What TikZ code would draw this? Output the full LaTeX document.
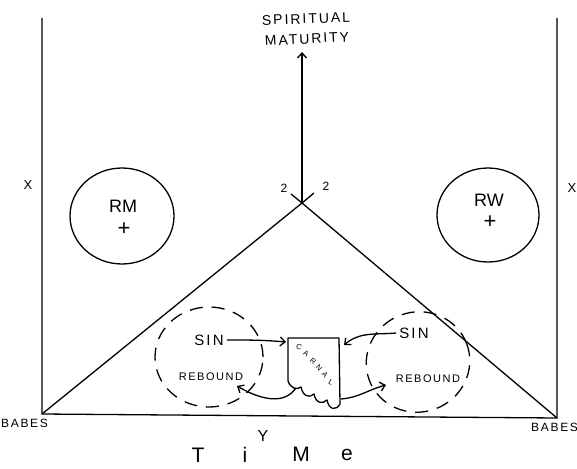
\documentclass[tikz,border=0pt]{standalone}
\usepackage{fontspec}
\setmainfont{Liberation Sans}
\newfontfamily\hand[LetterSpace=14]{Liberation Sans}
\usetikzlibrary{arrows.meta,shapes.geometric}
\begin{document}
\begin{tikzpicture}[x=1pt,y=-1pt,
  ink/.style={line width=1.3pt,black},
  ring/.style={ink,draw,ellipse,inner sep=0pt},
  cloud/.style={ink,draw,ellipse,inner sep=0pt,dash pattern=on 13pt off 9pt},
  lbl/.style={inner sep=0pt,font=\hand},
  cletter/.style={inner sep=0pt,font=\fontsize{7.5}{8}\selectfont},
  arr/.style={ink,-{Straight Barb[length=5pt,width=9pt]}}]
\useasboundingbox (0,0) rectangle (577,468);
% frame corners
\coordinate (TL) at (42,18);
\coordinate (BL) at (42,414);
\coordinate (TR) at (557,18);
\coordinate (BR) at (557,418);
\coordinate (apex) at (302,203);
\coordinate (apexL) at (291,194);
\coordinate (apexR) at (314,193);
\coordinate (top) at (302,52);
\draw[ink] (TL) -- (BL) -- (BR) -- (TR);
\draw[ink] (BL) -- (apex) -- (apexR);
\draw[ink] (BR) -- (apex) -- (apexL);
\draw[arr] (apex) -- (top);
% labels top
\node[lbl,font=\hand\fontsize{14}{15}\selectfont,rotate=2] (sp) at (306,19) {SPIRITUAL};
\node[lbl,font=\hand\fontsize{14}{15}\selectfont,rotate=3] (ma) at (307,39) {MATURITY};
\node[lbl,font=\fontsize{12}{13}\selectfont] (twoL) at (284,188) {2};
\node[lbl,font=\fontsize{12}{13}\selectfont] (twoR) at (326,186) {2};
\node[lbl,font=\fontsize{13}{14}\selectfont] (xL) at (28,185) {X};
\node[lbl,font=\fontsize{13}{14}\selectfont] (xR) at (572,188) {X};
% circles
\node[ring,minimum width=104pt,minimum height=96pt] (rm) at (122,216) {};
\node[ring,minimum width=102pt,minimum height=94pt] (rw) at (488,215) {};
\node[lbl,font=\fontsize{18}{18}\selectfont] (rmt) at (123,206) {RM};
\node[lbl,font=\fontsize{22}{22}\selectfont] (rmp) at (124,229) {+};
\node[lbl,font=\fontsize{18}{18}\selectfont] (rwt) at (489,200) {RW};
\node[lbl,font=\fontsize{22}{22}\selectfont] (rwp) at (490,222) {+};
% dashed clouds
\node[cloud,minimum width=108pt,minimum height=100pt] (cl) at (209,357) {};
\node[cloud,minimum width=104pt,minimum height=100pt,rotate=20] (cr) at (418,362) {};
\node[lbl,font=\hand\fontsize{15}{16}\selectfont] (sinL) at (209,340) {SIN};
\node[lbl,font=\hand\fontsize{11}{12}\selectfont] (rbL) at (211,377) {REBOUND};
\node[lbl,font=\hand\fontsize{15}{16}\selectfont] (sinR) at (414,333) {SIN};
\node[lbl,font=\hand\fontsize{11}{12}\selectfont] (rbR) at (428,379) {REBOUND};
% carnal box
\coordinate (c1) at (288,338);
\coordinate (c2) at (339,338);
\coordinate (c3) at (340,404);
\coordinate (cinL) at (286,342);
\coordinate (cinR) at (344,345);
\coordinate (coutL) at (296,388);
\coordinate (coutR) at (341,399);
\draw[ink,line join=round] (c1) -- (c2) -- (c3)
  .. controls (336,411) and (329,410) .. (327,400)
  .. controls (323,404) and (316,404) .. (314,394)
  .. controls (310,398) and (303,397) .. (301,387)
  .. controls (297,390) and (291,389) .. (288,381) -- cycle;
\node[cletter,rotate=-20] (ca1) at (299,347) {C};
\node[cletter,rotate=-30] (ca2) at (306,354) {A};
\node[cletter,rotate=-40] (ca3) at (313,361) {R};
\node[cletter,rotate=-50] (ca4) at (319,368) {N};
\node[cletter,rotate=-50] (ca5) at (325,375) {A};
\node[cletter,rotate=-30] (ca6) at (331,382) {L};
% connectors
\coordinate (sLe) at ([xshift=3pt]sinL.east);
\draw[arr] (sLe) to[out=0,in=175] (cinL);
\coordinate (sRw) at ([xshift=-3pt]sinR.west);
\draw[arr] (sRw) to[out=185,in=40] (cinR);
\coordinate (rLe) at (237,386);
\draw[arr] (coutL) to[out=235,in=-30] (rLe);
\coordinate (rRw) at (386,385);
\draw[arr] (coutR) to[out=5,in=195] (rRw);
% bottom texts
\node[lbl,font=\hand\fontsize{12}{13}\selectfont,anchor=west] (babL) at (1,423) {BABES};
\node[lbl,font=\hand\fontsize{12}{13}\selectfont,anchor=west] (babR) at (531,427) {BABES};
\node[lbl,font=\fontsize{16}{16}\selectfont] (yy) at (263,436) {Y};
\node[lbl,font=\fontsize{21}{21}\selectfont] (tT) at (198,455) {T};
\node[lbl,font=\fontsize{21}{21}\selectfont] (ti) at (245,455) {i};
\node[lbl,font=\fontsize{21}{21}\selectfont] (tM) at (301,454) {M};
\node[lbl,font=\fontsize{21}{21}\selectfont] (te) at (347,455) {e};
\end{tikzpicture}
\end{document}
